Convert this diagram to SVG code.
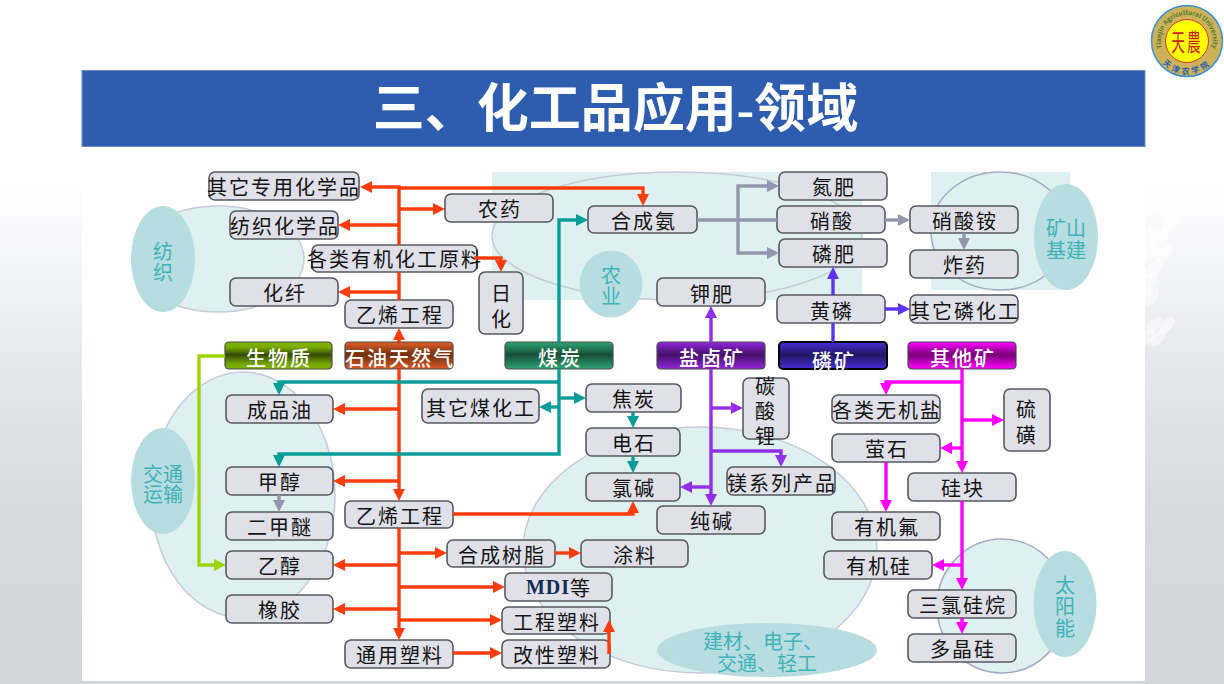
<svg xmlns="http://www.w3.org/2000/svg" width="1224" height="684" viewBox="0 0 1224 684">
<style>
text{font-family:"Noto Sans CJK SC","Noto Sans",sans-serif;dominant-baseline:central;text-anchor:middle}
.n rect{fill:#dfe0e8;stroke:#55595f;stroke-width:1.6}
.n text{font-size:20px;letter-spacing:2px;fill:#141414}
.s text{font-size:20px;letter-spacing:2px;fill:#fff;font-weight:500}
.s rect{stroke:#4a4a4a;stroke-width:1.2}
.soft{fill:#dff0f0}
.ring{fill:#dff0f0;stroke:#c6cbdb;stroke-width:1.5}
.ringo{fill:none;stroke:#c6cbdb;stroke-width:1.5}
.tag{fill:#b8dde1}
.tl{font-size:20px;fill:#3fb2b6}
.c path{fill:none;stroke-width:3.4;stroke-linejoin:miter}
.r path{stroke:#ff3d0c}.t path{stroke:#0a9c96}.g path{stroke:#9296ae}.p path{stroke:#9030e8}.b path{stroke:#5b33f5}.m path{stroke:#ff00ff}.l path{stroke:#9ed30a}
.deco{fill:#fff;fill-opacity:.5}
</style>
<defs>
<linearGradient id="bg" gradientUnits="userSpaceOnUse" x1="0" y1="0" x2="0" y2="684"><stop offset=".26" stop-color="#fff"/><stop offset=".38" stop-color="#f4f5f9"/><stop offset=".5" stop-color="#e9eaef"/><stop offset=".63" stop-color="#dfe0e5"/><stop offset=".76" stop-color="#d8d9de"/><stop offset=".94" stop-color="#d4d5db"/></linearGradient>
<linearGradient id="gGreen" x1="0" y1="0" x2="0" y2="1"><stop offset="0" stop-color="#82b800"/><stop offset=".2" stop-color="#78aa00"/><stop offset=".47" stop-color="#344a00"/><stop offset=".8" stop-color="#74a400"/><stop offset="1" stop-color="#82b800"/></linearGradient>
<linearGradient id="gOrange" x1="0" y1="0" x2="0" y2="1"><stop offset="0" stop-color="#e4602a"/><stop offset=".47" stop-color="#70300f"/><stop offset="1" stop-color="#dc5a26"/></linearGradient>
<linearGradient id="gTeal" x1="0" y1="0" x2="0" y2="1"><stop offset="0" stop-color="#2fa673"/><stop offset=".47" stop-color="#154f38"/><stop offset="1" stop-color="#2fa673"/></linearGradient>
<linearGradient id="gPurple" x1="0" y1="0" x2="0" y2="1"><stop offset="0" stop-color="#9426de"/><stop offset=".47" stop-color="#431068"/><stop offset="1" stop-color="#9426de"/></linearGradient>
<linearGradient id="gBlue" x1="0" y1="0" x2="0" y2="1"><stop offset="0" stop-color="#4a2fd8"/><stop offset=".47" stop-color="#211660"/><stop offset="1" stop-color="#4a2fd8"/></linearGradient>
<linearGradient id="gMag" x1="0" y1="0" x2="0" y2="1"><stop offset="0" stop-color="#ff00ff"/><stop offset=".47" stop-color="#780078"/><stop offset="1" stop-color="#ff00ff"/></linearGradient>
<marker id="aR" viewBox="0 0 12 12" refX="1" refY="6" markerWidth="12" markerHeight="12" markerUnits="userSpaceOnUse" orient="auto"><path d="M0,0L12,6L0,12z" fill="#ff3d0c"/></marker>
<marker id="aT" viewBox="0 0 12 12" refX="1" refY="6" markerWidth="12" markerHeight="12" markerUnits="userSpaceOnUse" orient="auto"><path d="M0,0L12,6L0,12z" fill="#0a9c96"/></marker>
<marker id="aG" viewBox="0 0 12 12" refX="1" refY="6" markerWidth="12" markerHeight="12" markerUnits="userSpaceOnUse" orient="auto"><path d="M0,0L12,6L0,12z" fill="#9296ae"/></marker>
<marker id="aP" viewBox="0 0 12 12" refX="1" refY="6" markerWidth="12" markerHeight="12" markerUnits="userSpaceOnUse" orient="auto"><path d="M0,0L12,6L0,12z" fill="#9030e8"/></marker>
<marker id="aB" viewBox="0 0 12 12" refX="1" refY="6" markerWidth="12" markerHeight="12" markerUnits="userSpaceOnUse" orient="auto"><path d="M0,0L12,6L0,12z" fill="#5b33f5"/></marker>
<marker id="aM" viewBox="0 0 12 12" refX="1" refY="6" markerWidth="12" markerHeight="12" markerUnits="userSpaceOnUse" orient="auto"><path d="M0,0L12,6L0,12z" fill="#ff00ff"/></marker>
<marker id="aL" viewBox="0 0 12 12" refX="1" refY="6" markerWidth="12" markerHeight="12" markerUnits="userSpaceOnUse" orient="auto"><path d="M0,0L12,6L0,12z" fill="#9ed30a"/></marker>
<path id="logoTop" d="M1162.600,49.900 A26,26 0 1 1 1211.400,49.900"/>
<path id="logoBottom" d="M1158.400,57.500 A33,33 0 0 0 1215.600,57.500"/>
</defs>

<rect id="background" width="1224" height="684" fill="url(#bg)"/>
<g id="decor">
<ellipse class="deco" cx="1153" cy="205" rx="12" ry="6.500" transform="rotate(-50 1153 205)"/>
<ellipse class="deco" cx="1171" cy="222" rx="12" ry="6.500" transform="rotate(-50 1171 222)"/>
<ellipse class="deco" cx="1160" cy="237" rx="12" ry="6.500" transform="rotate(-50 1160 237)"/>
<ellipse class="deco" cx="1149" cy="237" rx="12" ry="6.500" transform="rotate(-50 1149 237)"/>
<ellipse class="deco" cx="1164" cy="253" rx="12" ry="6.500" transform="rotate(-50 1164 253)"/>
<ellipse class="deco" cx="1150" cy="253" rx="12" ry="6.500" transform="rotate(-50 1150 253)"/>
<ellipse class="deco" cx="1153" cy="269" rx="12" ry="6.500" transform="rotate(-50 1153 269)"/>
<ellipse class="deco" cx="1148" cy="283" rx="12" ry="6.500" transform="rotate(-50 1148 283)"/>
<ellipse class="deco" cx="1150" cy="297" rx="12" ry="6.500" transform="rotate(-50 1150 297)"/>
<ellipse class="deco" cx="1167" cy="325" rx="10" ry="5.500" transform="rotate(-50 1167 325)"/>
<ellipse class="deco" cx="1154" cy="325" rx="10" ry="5.500" transform="rotate(-50 1154 325)"/>
<ellipse class="deco" cx="1158" cy="338" rx="10" ry="5.500" transform="rotate(-50 1158 338)"/>
<ellipse class="deco" cx="1148" cy="337" rx="10" ry="5.500" transform="rotate(-50 1148 337)"/>
</g>
<rect id="panel" x="82" y="147" width="1063" height="534" fill="#fff"/>
<g id="title">
<rect x="82" y="70.500" width="1063" height="76" fill="#2e5daf" stroke="#6d8cc6" stroke-width="1"/>
<text x="615.500" y="109" font-size="52" font-weight="700" fill="#fff" style="font-family:'Liberation Serif','Noto Sans CJK SC',serif">三、化工品应用-领域</text>
</g>
<g id="logo">
<circle cx="1187" cy="41" r="35.500" fill="#cdb25a" stroke="#3a8fd8" stroke-width="1.500"/>
<circle cx="1187" cy="41" r="21.500" fill="#ffff00" stroke="#d8382a" stroke-width="1"/>
<text transform="translate(1187 41) scale(.72 1.25)" font-size="19" fill="#c8201c" letter-spacing="3">天農</text>
<text font-size="6.500" font-weight="700" fill="#4c7a2e" style="dominant-baseline:auto"><textPath href="#logoTop" startOffset="50%">Tianjin Agricultural University</textPath></text>
<text font-size="8" font-weight="700" fill="#2c5fb0" letter-spacing="3" style="dominant-baseline:auto"><textPath href="#logoBottom" startOffset="50%">天津农学院</textPath></text>
</g>

<g id="regions">
<rect class="soft" x="492" y="172" width="370" height="128"/>
<rect class="soft" x="931" y="172" width="139" height="118"/>
<ellipse class="ringo" cx="677" cy="236" rx="185" ry="64"/>
<ellipse class="ringo" cx="1000" cy="231" rx="69" ry="59" style="stroke:#a4abc6"/>
<ellipse class="ring" cx="218" cy="259" rx="86" ry="53"/>
<ellipse class="ring" cx="243" cy="495" rx="92" ry="123"/>
<ellipse class="ring" cx="700" cy="550" rx="177" ry="123"/>
<ellipse class="ring" cx="1002" cy="606" rx="65" ry="67" style="stroke:#a4abc6"/>
<ellipse class="tag" cx="163" cy="259" rx="32" ry="53"/>
<ellipse class="tag" cx="163" cy="481" rx="32" ry="53"/>
<ellipse class="tag" cx="611" cy="284" rx="31.500" ry="33.500"/>
<ellipse class="tag" cx="1066" cy="237" rx="32" ry="53"/>
<ellipse class="tag" cx="767" cy="650" rx="110" ry="27"/>
<ellipse class="tag" cx="1065" cy="604" rx="31.500" ry="53"/>
<text class="tl"><tspan x="163" y="250">纺</tspan><tspan x="163" y="271">织</tspan></text>
<text class="tl"><tspan x="163" y="473">交通</tspan><tspan x="163" y="493">运输</tspan></text>
<text class="tl"><tspan x="611" y="274">农</tspan><tspan x="611" y="295">业</tspan></text>
<text class="tl"><tspan x="1066" y="227">矿山</tspan><tspan x="1066" y="249">基建</tspan></text>
<text class="tl"><tspan x="763" y="640">建材、电子、</tspan><tspan x="767" y="662">交通、轻工</tspan></text>
<text class="tl"><tspan x="1065" y="584">太</tspan><tspan x="1065" y="605">阳</tspan><tspan x="1065" y="627">能</tspan></text>
</g>

<g id="n-qita-zhuanyong" class="n"><rect x="209" y="172" width="150" height="28" rx="6"/><text x="284" y="186">其它专用化学品</text></g>
<g id="n-fangzhi" class="n"><rect x="230" y="211" width="108" height="28" rx="6"/><text x="285" y="225">纺织化学品</text></g>
<g id="n-youji" class="n"><rect x="312" y="245" width="165" height="27" rx="6"/><text x="395" y="258">各类有机化工原料</text></g>
<g id="n-huaxian" class="n"><rect x="230" y="278" width="108" height="28" rx="6"/><text x="285" y="292">化纤</text></g>
<g id="n-nongyao" class="n"><rect x="445" y="194" width="108" height="28" rx="6"/><text x="500" y="208">农药</text></g>
<g id="n-yixi1" class="n"><rect x="345" y="300" width="108" height="28" rx="6"/><text x="400" y="314">乙烯工程</text></g>
<g id="n-rihua" class="n"><rect x="479" y="272" width="44" height="62" rx="6"/><text><tspan x="502" y="292">日</tspan><tspan x="502" y="318">化</tspan></text></g>
<g id="n-shengwu" class="s"><rect x="225" y="342" width="107" height="27" rx="4" fill="url(#gGreen)"/><text x="279" y="357">生物质</text></g>
<g id="n-shiyou" class="s"><rect x="345" y="342" width="108" height="27" rx="4" fill="url(#gOrange)"/><text x="400" y="357">石油天然气</text></g>
<g id="n-meitan" class="s"><rect x="505" y="342" width="108" height="27" rx="4" fill="url(#gTeal)"/><text x="560" y="357">煤炭</text></g>
<g id="n-yanlu" class="s"><rect x="657" y="342" width="108" height="27" rx="4" fill="url(#gPurple)"/><text x="712" y="357">盐卤矿</text></g>
<g id="n-linkuang" class="s"><rect x="779" y="342" width="108" height="27" rx="4" fill="url(#gBlue)" style="stroke:#000;stroke-width:2"/><text x="834" y="360">磷矿</text></g>
<g id="n-qita" class="s"><rect x="908" y="342" width="108" height="27" rx="4" fill="url(#gMag)"/><text x="963" y="357">其他矿</text></g>
<g id="n-hechengan" class="n"><rect x="588" y="206" width="109" height="27" rx="6"/><text x="644" y="220">合成氨</text></g>
<g id="n-danfei" class="n"><rect x="779" y="172" width="108" height="28" rx="6"/><text x="834" y="186">氮肥</text></g>
<g id="n-xiaosuan" class="n"><rect x="777" y="206" width="108" height="27" rx="6"/><text x="832" y="220">硝酸</text></g>
<g id="n-linfei" class="n"><rect x="779" y="239" width="108" height="28" rx="6"/><text x="834" y="253">磷肥</text></g>
<g id="n-xiaosuanan" class="n"><rect x="910" y="206" width="108" height="27" rx="6"/><text x="965" y="220">硝酸铵</text></g>
<g id="n-zhayao" class="n"><rect x="910" y="250" width="108" height="28" rx="6"/><text x="965" y="264">炸药</text></g>
<g id="n-jiafei" class="n"><rect x="657" y="278" width="108" height="28" rx="6"/><text x="712" y="293">钾肥</text></g>
<g id="n-huanglin" class="n"><rect x="777" y="295" width="108" height="28" rx="6"/><text x="832" y="310">黄磷</text></g>
<g id="n-qitalin" class="n"><rect x="910" y="295" width="108" height="28" rx="6"/><text x="965" y="310">其它磷化工</text></g>
<g id="n-jiaotan" class="n"><rect x="586" y="384" width="95" height="28" rx="6"/><text x="634" y="398">焦炭</text></g>
<g id="n-tansuanli" class="n"><rect x="743" y="378" width="46" height="61" rx="6"/><text><tspan x="766" y="385">碳</tspan><tspan x="766" y="410">酸</tspan><tspan x="766" y="435">锂</tspan></text></g>
<g id="n-wujiyan" class="n"><rect x="832" y="395" width="108" height="28" rx="6"/><text x="887" y="409">各类无机盐</text></g>
<g id="n-liuhuang" class="n"><rect x="1004" y="389" width="46" height="62" rx="6"/><text><tspan x="1027" y="408">硫</tspan><tspan x="1027" y="434">磺</tspan></text></g>
<g id="n-chengpin" class="n"><rect x="226" y="395" width="107" height="28" rx="6"/><text x="280" y="409">成品油</text></g>
<g id="n-qitamei" class="n"><rect x="422" y="389" width="117" height="34" rx="6"/><text x="481" y="407">其它煤化工</text></g>
<g id="n-jiachun" class="n"><rect x="226" y="467" width="107" height="28" rx="6"/><text x="280" y="481">甲醇</text></g>
<g id="n-erjiami" class="n"><rect x="226" y="512" width="107" height="28" rx="6"/><text x="280" y="526">二甲醚</text></g>
<g id="n-yichun" class="n"><rect x="226" y="551" width="107" height="28" rx="6"/><text x="280" y="565">乙醇</text></g>
<g id="n-xiangjiao" class="n"><rect x="226" y="595" width="107" height="28" rx="6"/><text x="280" y="609">橡胶</text></g>
<g id="n-yixi2" class="n"><rect x="345" y="501" width="108" height="27" rx="6"/><text x="400" y="515">乙烯工程</text></g>
<g id="n-shuzhi" class="n"><rect x="447" y="540" width="108" height="27" rx="6"/><text x="502" y="554">合成树脂</text></g>
<g id="n-mdi" class="n"><rect x="505" y="573" width="107" height="28" rx="6"/><text x="559" y="587"><tspan style="font-family:'Liberation Serif',serif;font-weight:700;fill:#152a55;letter-spacing:1px">MDI</tspan>等</text></g>
<g id="n-gongcheng" class="n"><rect x="502" y="607" width="108" height="27" rx="6"/><text x="557" y="621">工程塑料</text></g>
<g id="n-tongyong" class="n"><rect x="345" y="640" width="108" height="28" rx="6"/><text x="400" y="654">通用塑料</text></g>
<g id="n-gaixing" class="n"><rect x="502" y="640" width="108" height="28" rx="6"/><text x="557" y="654">改性塑料</text></g>
<g id="n-dianshi" class="n"><rect x="586" y="428" width="94" height="28" rx="6"/><text x="634" y="442">电石</text></g>
<g id="n-lujian" class="n"><rect x="586" y="473" width="94" height="28" rx="6"/><text x="634" y="487">氯碱</text></g>
<g id="n-chunjian" class="n"><rect x="657" y="506" width="108" height="28" rx="6"/><text x="712" y="520">纯碱</text></g>
<g id="n-tuliao" class="n"><rect x="581" y="540" width="107" height="27" rx="6"/><text x="635" y="554">涂料</text></g>
<g id="n-meixi" class="n"><rect x="727" y="467" width="108" height="28" rx="6"/><text x="782" y="482">镁系列产品</text></g>
<g id="n-yingshi" class="n"><rect x="832" y="434" width="108" height="28" rx="6"/><text x="887" y="448">萤石</text></g>
<g id="n-guikuai" class="n"><rect x="908" y="473" width="108" height="28" rx="6"/><text x="963" y="487">硅块</text></g>
<g id="n-youjifu" class="n"><rect x="832" y="512" width="108" height="28" rx="6"/><text x="887" y="526">有机氟</text></g>
<g id="n-youjigui" class="n"><rect x="824" y="551" width="108" height="28" rx="6"/><text x="879" y="565">有机硅</text></g>
<g id="n-sanlv" class="n"><rect x="908" y="590" width="108" height="28" rx="6"/><text x="963" y="604">三氯硅烷</text></g>
<g id="n-duojing" class="n"><rect x="908" y="634" width="108" height="28" rx="6"/><text x="963" y="648">多晶硅</text></g>

<g id="connectors" class="c">
<g class="r">
<path d="M399,342V339" marker-end="url(#aR)"/>
<path d="M399,300V272"/>
<path d="M399,245V187H371" marker-end="url(#aR)"/>
<path d="M399,188H643V195" marker-end="url(#aR)"/>
<path d="M399,209H434" marker-end="url(#aR)"/>
<path d="M399,225H349" marker-end="url(#aR)"/>
<path d="M399,292H349" marker-end="url(#aR)"/>
<path d="M474,258H501V261" marker-end="url(#aR)"/>
<path d="M399,369V490" marker-end="url(#aR)"/>
<path d="M399,409H344" marker-end="url(#aR)"/>
<path d="M399,481H344" marker-end="url(#aR)"/>
<path d="M399,528V629" marker-end="url(#aR)"/>
<path d="M399,565H344" marker-end="url(#aR)"/>
<path d="M399,609H344" marker-end="url(#aR)"/>
<path d="M399,553H436" marker-end="url(#aR)"/>
<path d="M399,587H494" marker-end="url(#aR)"/>
<path d="M399,620H491" marker-end="url(#aR)"/>
<path d="M453,653H491" marker-end="url(#aR)"/>
<path d="M609,654V631" marker-end="url(#aR)"/>
<path d="M555,553H570" marker-end="url(#aR)"/>
<path d="M453,514H633V512" marker-end="url(#aR)"/>
</g>
<g class="t">
<path d="M559,342V220H577" marker-end="url(#aT)"/>
<path d="M559,369V454H279V456" marker-end="url(#aT)"/>
<path d="M559,382H279V384" marker-end="url(#aT)"/>
<path d="M559,398H575" marker-end="url(#aT)"/>
<path d="M559,407H550" marker-end="url(#aT)"/>
<path d="M633,412V417" marker-end="url(#aT)"/>
<path d="M633,456V462" marker-end="url(#aT)"/>
</g>
<g class="g">
<path d="M697,220H777"/>
<path d="M738,220V186H768" marker-end="url(#aG)"/>
<path d="M738,220V253H768" marker-end="url(#aG)"/>
<path d="M885,220H899" marker-end="url(#aG)"/>
<path d="M964,233V239" marker-end="url(#aG)"/>
<path d="M279,495V501" marker-end="url(#aG)"/>
</g>
<g class="p">
<path d="M711,342V317" marker-end="url(#aP)"/>
<path d="M711,369V495" marker-end="url(#aP)"/>
<path d="M711,408H732" marker-end="url(#aP)"/>
<path d="M711,487H691" marker-end="url(#aP)"/>
<path d="M711,451H781V456" marker-end="url(#aP)"/>
</g>
<g class="b">
<path d="M833,342V323"/>
<path d="M833,295V278" marker-end="url(#aB)"/>
<path d="M885,309H899" marker-end="url(#aB)"/>
</g>
<g class="m">
<path d="M962,369V462" marker-end="url(#aM)"/>
<path d="M962,382H886V384" marker-end="url(#aM)"/>
<path d="M962,420H993" marker-end="url(#aM)"/>
<path d="M962,448H951" marker-end="url(#aM)"/>
<path d="M962,501V579" marker-end="url(#aM)"/>
<path d="M962,565H943" marker-end="url(#aM)"/>
<path d="M962,618V623" marker-end="url(#aM)"/>
<path d="M886,462V501" marker-end="url(#aM)"/>
</g>
<g class="l">
<path d="M225,356H199V565H215" marker-end="url(#aL)"/>
</g>
</g>
</svg>
